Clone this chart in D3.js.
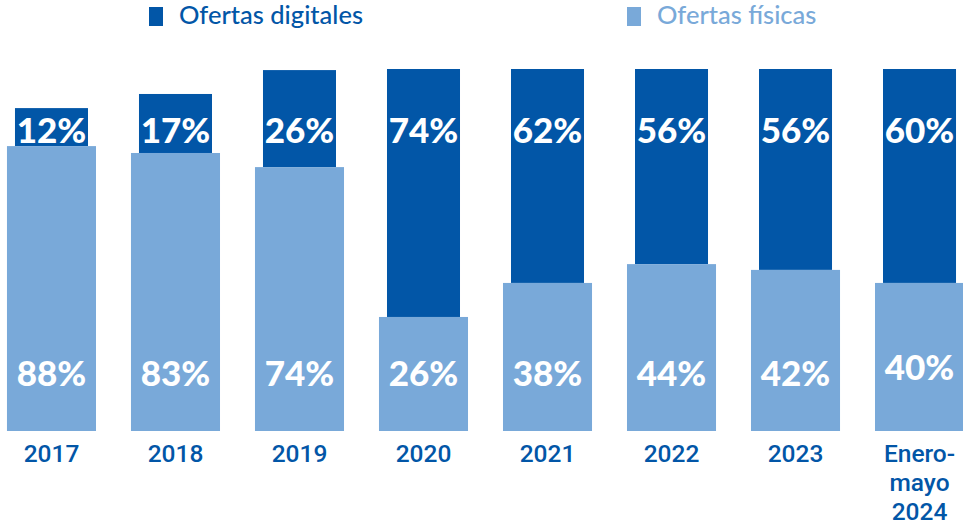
<!DOCTYPE html>
<html lang="es">
<head>
<meta charset="utf-8">
<title>Ofertas digitales y físicas</title>
<script src="https://cdn.jsdelivr.net/npm/d3@7"></script>
<style>
  body { margin: 0; background: #fff; }
  svg { display: block; }
</style>
</head>
<body>
<div id="chart"></div>
<script>
// Categories (the last one wraps over three lines)
const categories = ["2017", "2018", "2019", "2020", "2021", "2022", "2023", "Enero-mayo 2024"];

// Shares printed on the bars
const digitalPct = [12, 17, 26, 74, 62, 56, 56, 60];
const physicalPct = [88, 83, 74, 26, 38, 44, 42, 40];

// Segment lengths as drawn in the original (0-100 scale, tallest bar = 100)
const physicalBar = [78.7, 76.8, 72.9, 31.5, 40.9, 46.1, 44.5, 40.9];
const digitalBar = [10.5, 16.3, 26.8, 68.5, 59.1, 53.9, 55.5, 59.1];

const legendItems = ["Ofertas digitales", "Ofertas físicas"];

const width = 963, height = 526;
const dark = "#0256a7", light = "#79a9d9";

const svg = d3.select("#chart").append("svg")
    .attr("width", width)
    .attr("height", height)
    .attr("viewBox", `0 0 ${width} ${height}`);

const x = d3.scaleBand()
    .domain(categories)
    .range([-28, 999])
    .paddingInner(0.282)
    .paddingOuter(0.282);

const y = d3.scaleLinear()
    .domain([0, 100])
    .range([431, 69]);

const rows = categories.map((c, i) => ({
    cat: c,
    dPct: digitalPct[i],
    pPct: physicalPct[i],
    pLen: physicalBar[i],
    dLen: digitalBar[i]
}));

// digital segment is a bit narrower than the physical one
const inner = x.bandwidth() * 0.82;
const innerOff = (x.bandwidth() - inner) / 2;

svg.append("g").selectAll("rect")
    .data(rows)
    .join("rect")
    .attr("x", d => x(d.cat) + innerOff)
    .attr("width", inner)
    .attr("y", d => y(d.pLen + d.dLen))
    .attr("height", d => y(d.pLen) - y(d.pLen + d.dLen))
    .attr("fill", dark);

svg.append("g").selectAll("rect")
    .data(rows)
    .join("rect")
    .attr("x", d => x(d.cat))
    .attr("width", x.bandwidth())
    .attr("y", d => y(d.pLen))
    .attr("height", d => y(0) - y(d.pLen))
    .attr("fill", light);

// percentage labels
const pctFont = "Lato, 'Open Sans', sans-serif";
svg.append("g").selectAll("text")
    .data(rows)
    .join("text")
    .attr("x", d => x(d.cat) + x.bandwidth() / 2)
    .attr("y", 143)
    .attr("text-anchor", "middle")
    .style("font-family", pctFont)
    .style("font-weight", 900)
    .style("font-size", "35px")
    .attr("fill", "#fff")
    .text(d => d.dPct + "%");

svg.append("g").selectAll("text")
    .data(rows)
    .join("text")
    .attr("x", d => x(d.cat) + x.bandwidth() / 2)
    .attr("y", (d, i) => i === rows.length - 1 ? 380 : 386)
    .attr("text-anchor", "middle")
    .style("font-family", pctFont)
    .style("font-weight", 900)
    .style("font-size", "35px")
    .attr("fill", "#fff")
    .text(d => d.pPct + "%");

// category axis labels
const catLabels = svg.append("g").selectAll("text")
    .data(rows)
    .join("text")
    .attr("x", d => x(d.cat) + x.bandwidth() / 2)
    .attr("y", 462)
    .attr("text-anchor", "middle")
    .style("font-family", "Roboto, Lato, sans-serif")
    .style("font-weight", 500)
    .style("font-size", "24.5px")
    .attr("fill", dark);

catLabels.selectAll("tspan")
    .data(d => d.cat.split(/(?<=-)|\s/).map(t => ({ t, cx: x(d.cat) + x.bandwidth() / 2 })))
    .join("tspan")
    .attr("x", d => d.cx)
    .attr("dy", (d, i) => i === 0 ? 0 : 29)
    .text(d => d.t);

// legend
const legendX = [149, 627];
const legend = svg.append("g").selectAll("g")
    .data(legendItems)
    .join("g")
    .attr("transform", (d, i) => `translate(${legendX[i]},0)`);

legend.append("rect")
    .attr("y", 7)
    .attr("width", 14)
    .attr("height", 19)
    .attr("fill", (d, i) => i === 0 ? dark : light);

legend.append("text")
    .attr("x", 30)
    .attr("y", 24)
    .style("font-family", "Lato, 'Open Sans', sans-serif")
    .style("font-weight", 500)
    .style("font-size", "25.5px")
    .attr("fill", (d, i) => i === 0 ? dark : light)
    .text(d => d);
</script>
</body>
</html>
